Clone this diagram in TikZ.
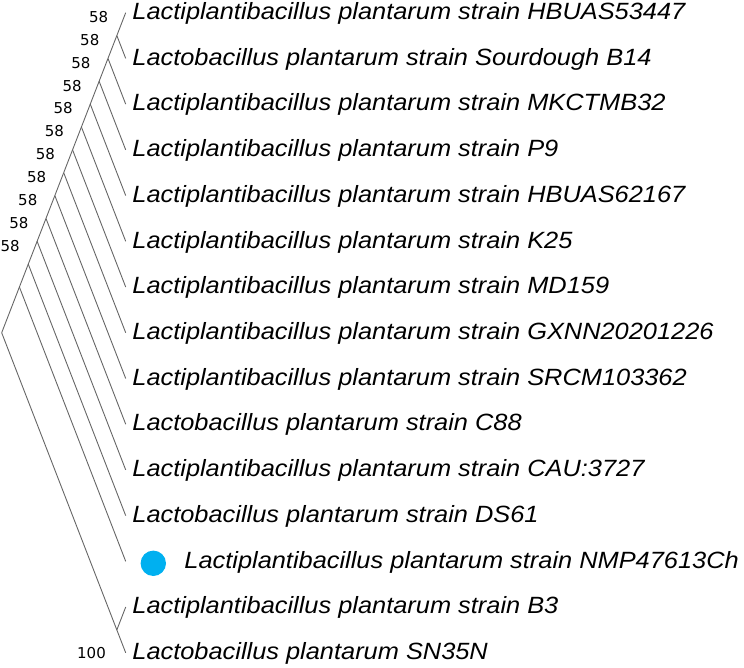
\documentclass[tikz,border=0pt]{standalone}
\usepackage{fontspec}
\newfontfamily\labfont{Liberation Sans}[FakeStretch=1.08]
\newfontfamily\bootfont{DejaVu Sans}
\begin{document}
\begin{tikzpicture}[x=1pt,y=-1pt,
  branch/.style={draw=black!60, line width=0.9pt},
  taxon/.style={anchor=base west, inner sep=0pt, font=\labfont\itshape\fontsize{23.5}{26}\selectfont},
  boot/.style={anchor=center, inner sep=0pt, font=\bootfont\fontsize{15}{17}\selectfont}]
\useasboundingbox (0,0) rectangle (744,668);
% tips
\coordinate (t1) at (125.7,12.7);
\coordinate (t2) at (125.7,58.42);
\coordinate (t3) at (125.7,104.14);
\coordinate (t4) at (125.7,149.86);
\coordinate (t5) at (125.7,195.58);
\coordinate (t6) at (125.7,241.3);
\coordinate (t7) at (125.7,287.02);
\coordinate (t8) at (125.7,332.74);
\coordinate (t9) at (125.7,378.46);
\coordinate (t10) at (125.7,424.18);
\coordinate (t11) at (125.7,469.9);
\coordinate (t12) at (125.7,515.62);
\coordinate (t13) at (125.7,561.34);
\coordinate (t14) at (125.7,607.06);
\coordinate (t15) at (125.7,652.78);
% internal nodes
\coordinate (n2) at (116.84,35.56);
\coordinate (n3) at (107.98,58.42);
\coordinate (n4) at (99.13,81.28);
\coordinate (n5) at (90.27,104.14);
\coordinate (n6) at (81.41,127.0);
\coordinate (n7) at (72.55,149.86);
\coordinate (n8) at (63.69,172.72);
\coordinate (n9) at (54.84,195.58);
\coordinate (n10) at (45.98,218.44);
\coordinate (n11) at (37.12,241.3);
\coordinate (n12) at (28.26,264.16);
\coordinate (n13) at (19.40,287.02);
\coordinate (nB) at (116.84,629.92);
\coordinate (root) at (1.68,332.74);
% branches
\draw[branch] (root) -- (n13);
\draw[branch] (root) -- (nB);
\draw[branch] (nB) -- (t14);
\draw[branch] (nB) -- (t15);
\draw[branch] (n2) -- (t1);
\draw[branch] (n2) -- (t2);
\draw[branch] (n3) -- (n2);  \draw[branch] (n3) -- (t3);
\draw[branch] (n4) -- (n3);  \draw[branch] (n4) -- (t4);
\draw[branch] (n5) -- (n4);  \draw[branch] (n5) -- (t5);
\draw[branch] (n6) -- (n5);  \draw[branch] (n6) -- (t6);
\draw[branch] (n7) -- (n6);  \draw[branch] (n7) -- (t7);
\draw[branch] (n8) -- (n7);  \draw[branch] (n8) -- (t8);
\draw[branch] (n9) -- (n8);  \draw[branch] (n9) -- (t9);
\draw[branch] (n10) -- (n9); \draw[branch] (n10) -- (t10);
\draw[branch] (n11) -- (n10); \draw[branch] (n11) -- (t11);
\draw[branch] (n12) -- (n11); \draw[branch] (n12) -- (t12);
\draw[branch] (n13) -- (n12); \draw[branch] (n13) -- (t13);
% bootstrap values
\foreach \k in {2,...,12} {
  \node[boot] (b\k) at ([shift={(-18.2,-18.5)}]n\k) {58};
}
\node[boot] (b100) at (91.5,653) {100};
% taxa labels
\node[taxon] (l1) at ([shift={(6.5,6.8)}]t1) {Lactiplantibacillus plantarum strain HBUAS53447};
\node[taxon] (l2) at ([shift={(6.5,6.8)}]t2) {Lactobacillus plantarum strain Sourdough B14};
\node[taxon] (l3) at ([shift={(6.5,6.8)}]t3) {Lactiplantibacillus plantarum strain MKCTMB32};
\node[taxon] (l4) at ([shift={(6.5,6.8)}]t4) {Lactiplantibacillus plantarum strain P9};
\node[taxon] (l5) at ([shift={(6.5,6.8)}]t5) {Lactiplantibacillus plantarum strain HBUAS62167};
\node[taxon] (l6) at ([shift={(6.5,6.8)}]t6) {Lactiplantibacillus plantarum strain K25};
\node[taxon] (l7) at ([shift={(6.5,6.8)}]t7) {Lactiplantibacillus plantarum strain MD159};
\node[taxon] (l8) at ([shift={(6.5,6.8)}]t8) {Lactiplantibacillus plantarum strain GXNN20201226};
\node[taxon] (l9) at ([shift={(6.5,6.8)}]t9) {Lactiplantibacillus plantarum strain SRCM103362};
\node[taxon] (l10) at ([shift={(6.5,6.8)}]t10) {Lactobacillus plantarum strain C88};
\node[taxon] (l11) at ([shift={(6.5,6.8)}]t11) {Lactiplantibacillus plantarum strain CAU:3727};
\node[taxon] (l12) at ([shift={(6.5,6.8)}]t12) {Lactobacillus plantarum strain DS61};
\fill[fill={rgb,255:red,0;green,176;blue,240}] (153.3,563.3) circle (12.7);
\node[taxon] (l13) at ([shift={(58.5,6.8)}]t13) {Lactiplantibacillus plantarum strain NMP47613Ch};
\node[taxon] (l14) at ([shift={(6.5,6.8)}]t14) {Lactiplantibacillus plantarum strain B3};
\node[taxon] (l15) at ([shift={(6.5,6.8)}]t15) {Lactobacillus plantarum SN35N};
\end{tikzpicture}
\end{document}
